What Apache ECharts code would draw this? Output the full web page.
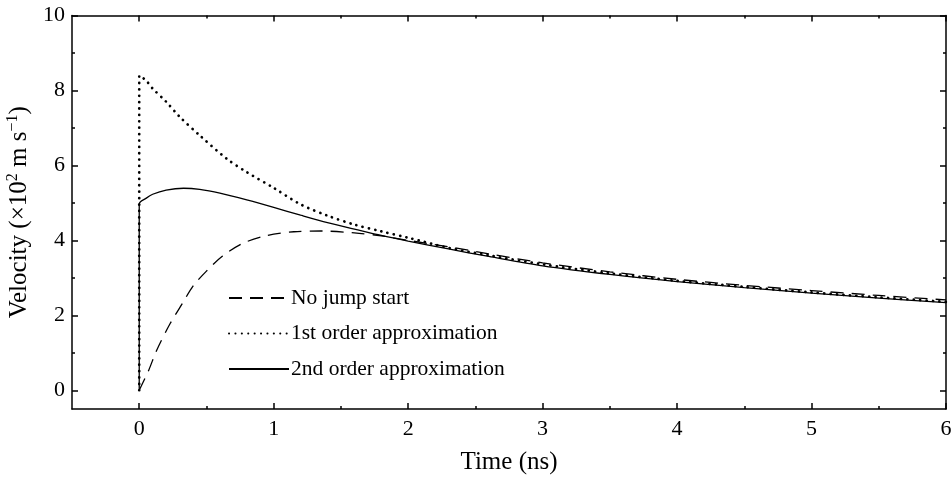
<!DOCTYPE html>
<html>
<head>
<meta charset="utf-8">
<script src="https://cdn.jsdelivr.net/npm/echarts@6/dist/echarts.min.js"></script>
<style>
html,body{margin:0;padding:0;background:#fff;}
#chart{width:951px;height:477px;}
</style>
</head>
<body>
<div id="chart"></div>
<script>
// Time (ns) and velocity (x10^2 m/s)
const noJumpT = [0, 0.07, 0.13, 0.23, 0.32, 0.40, 0.50, 0.62, 0.77, 0.95, 1.15, 1.35, 1.60, 1.80, 2.00, 2.30, 2.60, 3.00, 3.50, 4.00, 4.50, 5.00, 5.50, 6.00];
const noJumpV = [0, 0.53, 1.07, 1.78, 2.31, 2.78, 3.18, 3.58, 3.92, 4.13, 4.23, 4.25, 4.20, 4.12, 4.00, 3.83, 3.64, 3.40, 3.16, 2.96, 2.80, 2.66, 2.53, 2.41];

const firstT = [0, 0, 0.05, 0.10, 0.20, 0.30, 0.45, 0.65, 0.80, 1.00, 1.20, 1.40, 1.60, 1.80, 2.00, 2.30, 2.60, 3.00, 3.50, 4.00, 4.50, 5.00, 5.50, 6.00];
const firstV = [0, 8.40, 8.27, 8.05, 7.70, 7.30, 6.80, 6.18, 5.82, 5.40, 4.96, 4.66, 4.42, 4.24, 4.07, 3.80, 3.60, 3.36, 3.12, 2.92, 2.76, 2.61, 2.48, 2.36];

const secondT = [0, 0, 0.05, 0.10, 0.20, 0.33, 0.45, 0.60, 0.80, 1.00, 1.20, 1.40, 1.60, 1.80, 2.00, 2.30, 2.60, 3.00, 3.50, 4.00, 4.50, 5.00, 5.50, 6.00];
const secondV = [0, 4.97, 5.12, 5.23, 5.34, 5.39, 5.36, 5.26, 5.08, 4.88, 4.67, 4.47, 4.30, 4.13, 3.98, 3.77, 3.57, 3.32, 3.09, 2.90, 2.74, 2.59, 2.46, 2.34];

const xMajor = [0, 1, 2, 3, 4, 5, 6];
const xMinor = [0.5, 1.5, 2.5, 3.5, 4.5, 5.5];
const yMajor = [0, 2, 4, 6, 8, 10];
const yMinor = [1, 3, 5, 7, 9];

const seriesNames = ['No jump start', '1st order approximation', '2nd order approximation'];

function zip(a, b) { return a.map((v, i) => [v, b[i]]); }

const FONT = '"Liberation Serif", "Times New Roman", serif';
const lineCol = '#000';

function xAx(pos, ticks, len, showLine, labels, extra) {
  return Object.assign({
    type: 'value', position: pos, min: -0.5, max: 6,
    axisLine: { show: showLine, onZero: false, lineStyle: { color: lineCol, width: 1.5 } },
    axisTick: { show: true, inside: true, length: len, customValues: ticks, lineStyle: { color: lineCol, width: 1.5 } },
    axisLabel: labels ? { show: true, customValues: ticks, color: '#000', fontFamily: FONT, fontSize: 22, margin: 9 } : { show: false },
    splitLine: { show: false }
  }, extra || {});
}
function yAx(pos, ticks, len, showLine, labels, extra) {
  return Object.assign({
    type: 'value', position: pos, min: -0.5, max: 10,
    axisLine: { show: showLine, onZero: false, lineStyle: { color: lineCol, width: 1.5 } },
    axisTick: { show: true, inside: true, length: len, customValues: ticks, lineStyle: { color: lineCol, width: 1.5 } },
    axisLabel: labels ? { show: true, customValues: ticks, color: '#000', fontFamily: FONT, fontSize: 22, margin: 7 } : { show: false },
    splitLine: { show: false }
  }, extra || {});
}

const chart = echarts.init(document.getElementById('chart'), null, { renderer: 'canvas' });
chart.setOption({
  animation: false,
  backgroundColor: '#fff',
  grid: { left: 72, right: 5, top: 15.5, bottom: 68, containLabel: false, outerBoundsMode: 'none' },
  legend: {
    orient: 'vertical', left: 228, top: 287, padding: 0,
    itemWidth: 60, itemHeight: 20, itemGap: 13.5,
    itemStyle: { opacity: 0 },
    textStyle: { fontFamily: FONT, fontSize: 21.5, color: '#000', lineHeight: 20, padding: [0, 0, 0, -3] },
    data: seriesNames
  },
  xAxis: [
    xAx('bottom', xMajor, 6, true, true, {
      name: 'Time (ns)', nameLocation: 'middle', nameGap: 41,
      nameTextStyle: { fontFamily: FONT, fontSize: 25, color: '#000' }
    }),
    xAx('top', xMajor, 6, true, false),
    xAx('bottom', xMinor, 3, false, false),
    xAx('top', xMinor, 3, false, false)
  ],
  yAxis: [
    yAx('left', yMajor, 6, true, true, {
      name: 'Velocity (×10{sup|2} m s{sup|−1})', nameLocation: 'middle', nameGap: 39, nameRotate: 90,
      nameTextStyle: {
        fontFamily: FONT, fontSize: 25, color: '#000',
        rich: { sup: { fontFamily: FONT, fontSize: 16, color: '#000', verticalAlign: 'top', padding: [0, 0, 12, 0] } }
      }
    }),
    yAx('right', yMajor, 6, true, false),
    yAx('left', yMinor, 3, false, false),
    yAx('right', yMinor, 3, false, false)
  ],
  series: [
    {
      name: seriesNames[0], type: 'line', data: zip(noJumpT, noJumpV), showSymbol: false, symbol: 'none',
      smooth: 0.3, color: '#000',
      lineStyle: { color: '#000', width: 1.3, type: [13, 8] }
    },
    {
      name: seriesNames[1], type: 'line', data: zip(firstT, firstV), showSymbol: false, symbol: 'none',
      smooth: 0.3, color: '#000',
      lineStyle: { color: '#000', width: 2.7, type: [0.1, 6.3], cap: 'round' }
    },
    {
      name: seriesNames[2], type: 'line', data: zip(secondT, secondV), showSymbol: false, symbol: 'none',
      smooth: 0.3, color: '#000',
      lineStyle: { color: '#000', width: 1.3, type: 'solid' }
    }
  ]
});
</script>
</body>
</html>
